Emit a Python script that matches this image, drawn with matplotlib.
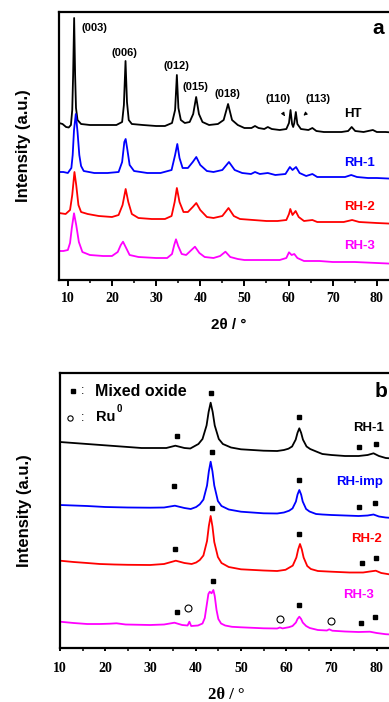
import matplotlib
matplotlib.use('Agg')
import matplotlib.pyplot as plt
from matplotlib.ticker import MultipleLocator

SANS = 'Liberation Sans'
SERIF = 'Liberation Serif'

# ---- panel a: XRD of hydrotalcite precursors (2theta, intensity with offset) ----
ht_x = [8.0, 8.8, 9.6, 10.2, 10.7, 11.0, 11.2, 11.43, 11.65, 11.85, 12.2, 13, 15, 18, 21,
        22.3, 22.7, 23.07, 23.4, 23.8, 24.5, 27, 30, 32, 33.6, 34.3, 34.7, 35.05, 35.6,
        36.5, 37.6, 38.4, 39.07, 39.7, 40.5, 42, 44, 45.3, 46.3, 47.2, 48.5, 50, 51.6,
        52.4, 53.2, 54.5, 55.3, 56.2, 58, 59.5, 60.1, 60.45, 60.8, 61.05, 61.3, 61.65,
        62.0, 62.8, 64.5, 65.4, 66.3, 68, 70, 72, 73.5, 74.3, 75.1, 77, 79.1, 80, 82, 85]
ht_y = [157, 156, 153, 152.5, 155, 170, 205, 262, 205, 172, 160, 156, 155, 155, 155,
        158, 175, 219, 178, 160, 156, 155, 154, 154, 157, 170, 205, 172, 160,
        157, 158, 166, 183, 166, 158, 155, 156, 160, 176, 160, 155, 152, 152,
        154, 152, 151, 153, 151, 150, 151, 157, 170, 156, 153, 157, 168,
        156, 151, 150, 152, 149, 148, 148, 148, 149, 153, 149, 148, 150, 148, 148, 147]

rh1a_x = [8.0, 9, 10, 10.8, 11.1, 11.4, 11.8, 12.2, 12.6, 13.0, 13.6, 16, 19, 21.5, 22.3,
          22.8, 23.1, 23.5, 24, 25, 28, 31, 33.5, 34.3, 34.8, 35.3, 36, 37.2, 38.3, 39.1,
          40, 41.5, 43, 45, 46.5, 47.8, 49.5, 51.5, 52.4, 53.5, 55.3, 57, 59.3, 60.3,
          60.9, 61.7, 62.5, 64, 65.4, 66.5, 70, 72.8, 74.2, 75.5, 78, 80, 85]
rh1a_y = [108, 108, 107, 112, 125, 150, 166, 148, 125, 114, 109, 107, 107, 108, 118,
          138, 141, 130, 115, 109, 107, 107, 110, 125, 136, 122, 112, 112, 118, 123,
          115, 109, 108, 110, 118, 110, 107, 106, 108, 106, 107, 105, 106, 113,
          110, 113, 107, 104, 106, 103, 103, 103, 105, 103, 102, 102, 101]

rh2a_x = [8.0, 9.5, 10.5, 11.0, 11.5, 11.9, 12.4, 13, 14.5, 17, 20, 21.5, 22.4, 23.1, 23.7,
          24.5, 26, 29, 32, 33.5, 34.2, 34.7, 35.3, 36.2, 37.2, 38.3, 39.1, 40, 41.5, 43,
          45, 46.4, 47.6, 49, 52, 55, 57.5, 59.5, 60.1, 60.4, 60.9, 61.6, 62.3, 63.5,
          65.4, 66.5, 70, 72.5, 74.4, 76, 80, 85]
rh2a_y = [67, 66, 70, 85, 108, 95, 75, 68, 66, 64, 63, 65, 75, 91, 78,
          66, 62, 61, 61, 64, 78, 92, 78, 68, 68, 73, 77, 70, 63, 62,
          64, 72, 64, 61, 60, 59, 59, 60, 66, 71, 65, 69, 63, 59,
          60, 58, 58, 58, 60, 58, 57, 56]

rh3a_x = [8.0, 9, 10, 10.5, 10.9, 11.4, 11.9, 12.5, 13.3, 15, 18, 20, 21.3, 22.0, 22.5,
          23.1, 24, 26, 30, 32.5, 33.6, 34.1, 34.5, 35.0, 35.8, 36.8, 38, 38.8, 39.8,
          41, 43, 44.5, 45.7, 46.8, 48.5, 50, 55, 58, 59.5, 60.1, 60.7, 61.3, 62, 63.5,
          67, 70, 75, 80, 85]
rh3a_y = [29, 29, 30, 37, 52, 66.7, 55, 38, 28, 25, 24, 24, 28, 35, 38.3,
          33, 25, 23, 22, 22, 26, 35, 40.7, 34, 26, 25, 30, 33.3, 27,
          23, 22, 24, 28.3, 23, 21, 20, 20, 20, 22, 27.7, 25, 26, 22, 19,
          19, 18, 18, 17, 16]

hkl_labels = ['(003)', '(006)', '(012)', '(015)', '(018)', '(110)', '(113)']
hkl_x = [13.2, 22.9, 34.5, 39.0, 46.2, 57.6, 66.6]
hkl_y = [252, 227, 214, 193, 186, 181, 181]

# ---- panel b: XRD of reduced catalysts ----
rh1b_x = [10, 13, 16, 19, 22, 25, 28, 31, 33.5, 35.5, 37.5, 38.8, 40.6, 41.5, 42.4, 42.85,
          43.3, 43.75, 44.2, 45.1, 46.0, 47.8, 50, 55, 58, 59.5, 60.5, 61.3, 62.1, 62.5,
          62.9, 63.3, 63.7, 64.5, 65.3, 66.9, 68, 70, 73, 76, 78, 79.3, 80.5, 82, 85]
rh1b_y = [206, 205, 204, 203, 202, 201, 200, 200, 200, 202.3, 200, 199.5, 204, 209, 222.6, 236,
          245.3, 236, 222.6, 209, 204, 200.5, 198.7, 197.3, 197, 198, 199.3, 201.5, 208.4, 215.2,
          219.7, 215.2, 208.4, 201.5, 199, 196, 194, 193, 192, 192, 193, 194.7, 192, 190, 189]

rhimp_x = [10, 13, 16, 20, 25, 29.9, 33, 35.4, 37.5, 38.9, 40.1, 40.9, 41.7, 42.5, 42.9,
           43.3, 43.7, 44.1, 44.9, 45.7, 47.3, 50, 55, 58, 59.5, 60.65, 61.4, 62.15, 62.5,
           62.9, 63.3, 63.65, 64.4, 65.15, 66.6, 68, 70, 73, 76, 78, 79.3, 80.5, 82, 85]
rhimp_y = [143, 142.5, 142, 141, 140.5, 140.3, 140.5, 142.3, 140, 139, 141, 143.7, 148.4, 162.5, 176.6,
           186.3, 176.6, 162.5, 147, 142, 138.5, 136.3, 134.7, 134.5, 135.5, 137.3, 139.6, 146.5, 153.4,
           158, 153.4, 146.5, 139, 136.5, 134, 133.5, 133, 132.5, 132, 132.5, 133.5, 131.5, 130.5, 129.5]

rh2b_x = [10, 13, 16, 18.8, 22, 25, 29.9, 33, 35.6, 37.5, 39.1, 40.1, 40.9, 41.7, 42.5,
          42.9, 43.3, 43.7, 44.1, 44.9, 45.7, 47.3, 50, 55, 58, 59.85, 61.45, 62.25, 62.65,
          63.05, 63.45, 63.85, 64.65, 65.45, 67, 70, 74, 77, 78.5, 79.8, 81, 83, 85]
rh2b_y = [87.3, 86, 85, 84, 83.5, 83.2, 83, 84, 87.3, 85, 84, 85.5, 88, 92.5, 107,
          122, 132, 121.5, 106, 91, 85, 81, 78.7, 77.5, 77, 78.2, 82.4, 90.5, 98.6,
          104, 98.6, 90.5, 82, 79, 77, 76.3, 75.5, 75.5, 76.5, 77.3, 75, 73.5, 73]

rh3b_x = [10, 13, 16, 18.8, 21, 22.5, 24.5, 29.9, 33, 35.3, 37, 38.2, 38.6, 39.0, 40.5,
          41.5, 42.0, 42.4, 42.8, 43.1, 43.5, 43.9, 44.2, 44.6, 45.0, 45.6, 46.5, 48, 50,
          55, 58, 58.6, 59.2, 60.6, 61.4, 62.15, 62.5, 62.9, 63.3, 63.65, 64.4, 65.2, 67,
          69, 69.5, 70.2, 73, 76, 78.5, 80, 82, 85]
rh3b_y = [26.3, 25, 24, 24, 24.3, 24.7, 23.5, 23, 23.5, 25.3, 23, 22.5, 26.3, 22, 22.5,
          24.5, 30, 42, 54, 56.3, 54.7, 58, 52, 38, 29, 24.5, 22.5, 21.2, 20.7,
          19.7, 19.5, 20.5, 19.6, 20.8, 22, 25.5, 29, 31.3, 29, 25.5, 22, 20, 18,
          17.5, 18.7, 17.3, 16.5, 16, 16.3, 15, 13.8, 13]

# mixed oxide (filled squares) and Ru0 (open circles) markers
ox_x = {'RH-1': [35.8, 43.3, 62.9, 76.1, 79.85],
        'RH-imp': [35.2, 43.6, 62.9, 76.1, 79.6],
        'RH-2': [35.4, 43.6, 62.9, 76.8, 79.8],
        'RH-3': [35.8, 43.75, 62.9, 76.5, 79.6]}
ox_y = {'RH-1': [212, 254.7, 230.7, 201.3, 204],
        'RH-imp': [162, 196.3, 168, 140.7, 144.7],
        'RH-2': [98.7, 140.3, 113.7, 84.7, 90.3],
        'RH-3': [36.3, 67, 43, 24.7, 31.3]}
ru_x = [38.4, 58.6, 69.8]
ru_y = [40.3, 29, 27.3]

BLUE = '#0000ff'
RED = '#ff0000'
MAG = '#ff00ff'


def style_axis(ax, xlim, ylim, tick_size, major_len, minor_len, pad):
    ax.set_xlim(*xlim)
    ax.set_ylim(*ylim)
    ax.set_yticks([])
    ax.xaxis.set_major_locator(MultipleLocator(10))
    ax.xaxis.set_minor_locator(MultipleLocator(5))
    ax.tick_params(axis='x', which='major', direction='out', length=major_len, width=1.4, pad=pad)
    ax.tick_params(axis='x', which='minor', direction='out', length=minor_len, width=1.1)
    for lab in ax.get_xticklabels():
        lab.set_fontfamily(SERIF)
        lab.set_fontweight('bold')
        lab.set_fontsize(tick_size)
    for s in ax.spines.values():
        s.set_linewidth(1.6)


fig = plt.figure(figsize=(3.89, 7.02), dpi=100)

# 图 a
ax1 = fig.add_axes([59 / 389, 422 / 702, 339.9 / 389, 268 / 702])
lw = 1.3
ax1.plot(ht_x, ht_y, color='black', lw=lw)
ax1.plot(rh1a_x, rh1a_y, color=BLUE, lw=lw)
ax1.plot(rh2a_x, rh2a_y, color=RED, lw=lw)
ax1.plot(rh3a_x, rh3a_y, color=MAG, lw=lw)
style_axis(ax1, (8, 85), (0, 268), 10, 4.5, 2.5, 4)

for lab, x, y in zip(hkl_labels, hkl_x, hkl_y):
    ha = 'left' if lab == '(003)' else 'center'
    ax1.text(x, y, lab, ha=ha, va='center', fontsize=8, fontweight='bold', family=SANS)
ax1.annotate('', xy=(59.5, 161.5), xytext=(58.7, 167),
             arrowprops=dict(arrowstyle='-|>', lw=0.7, color='black', mutation_scale=5))
ax1.annotate('', xy=(62.9, 162.5), xytext=(64.2, 167.5),
             arrowprops=dict(arrowstyle='-|>', lw=0.7, color='black', mutation_scale=5))

for name, y, c in [('HT', 166, 'black'), ('RH-1', 117, BLUE), ('RH-2', 73.3, RED), ('RH-3', 34.3, MAG)]:
    ax1.text(72.6, y, name, color=c, ha='left', va='center', fontsize=9.5,
             fontweight='bold', family=SANS)
ax1.text(79.1, 252, 'a', ha='left', va='center', fontsize=15, fontweight='bold', family=SANS)
ax1.set_ylabel('Intensity (a.u.)', fontsize=12, fontweight='bold', family=SANS, labelpad=20)
fig.text(229 / 389, 1 - 325 / 702, '2θ / °', ha='center', va='center',
         fontsize=11, fontweight='bold', family=SANS)

# 图 b
ax2 = fig.add_axes([60 / 389, 54 / 702, 339.3 / 389, 275 / 702])
ax2.plot(rh1b_x, rh1b_y, color='black', lw=lw)
ax2.plot(rhimp_x, rhimp_y, color=BLUE, lw=lw)
ax2.plot(rh2b_x, rh2b_y, color=RED, lw=lw)
ax2.plot(rh3b_x, rh3b_y, color=MAG, lw=lw)
for key in ox_x:
    ax2.plot(ox_x[key], ox_y[key], 's', color='black', ms=3.0, ls='none')
ax2.plot(ru_x, ru_y, 'o', mfc='white', mec='black', mew=0.8, ms=5, ls='none')
style_axis(ax2, (10, 85), (0, 275), 10, 2.5, 2.0, 7.5)

# legend
ax2.plot([12.8], [257.3], 's', color='black', ms=2.6)
ax2.text(15.0, 257.3, ':', ha='center', va='center', fontsize=9, family=SANS)
ax2.text(17.7, 257, 'Mixed oxide', ha='left', va='center', fontsize=11.5,
         fontweight='bold', family=SANS)
ax2.plot([12.2], [230.3], 'o', mfc='white', mec='black', mew=0.8, ms=3.8)
ax2.text(15.0, 230.3, ':', ha='center', va='center', fontsize=9, family=SANS)
ax2.text(17.96, 231.3, 'Ru', ha='left', va='center', fontsize=10.5, fontweight='bold', family=SANS)
ax2.text(22.5, 238.5, '0', ha='left', va='center', fontsize=7, fontweight='bold', family=SANS)

for name, x, y, c in [('RH-1', 74.7, 220.3, 'black'), ('RH-imp', 71.0, 166.3, BLUE),
                      ('RH-2', 74.25, 108.7, RED), ('RH-3', 72.6, 53, MAG)]:
    ax2.text(x, y, name, color=c, ha='left', va='center', fontsize=9.5,
             fontweight='bold', family=SANS)
ax2.text(79.6, 256.3, 'b', ha='left', va='center', fontsize=15, fontweight='bold', family=SANS)
ax2.set_ylabel('Intensity (a.u.)', fontsize=12, fontweight='bold', family=SANS, labelpad=20)
fig.text(226 / 389, 1 - 695 / 702, '2θ / °', ha='center', va='center',
         fontsize=12, fontweight='bold', family=SERIF)

fig.savefig('out.png', dpi=100)
